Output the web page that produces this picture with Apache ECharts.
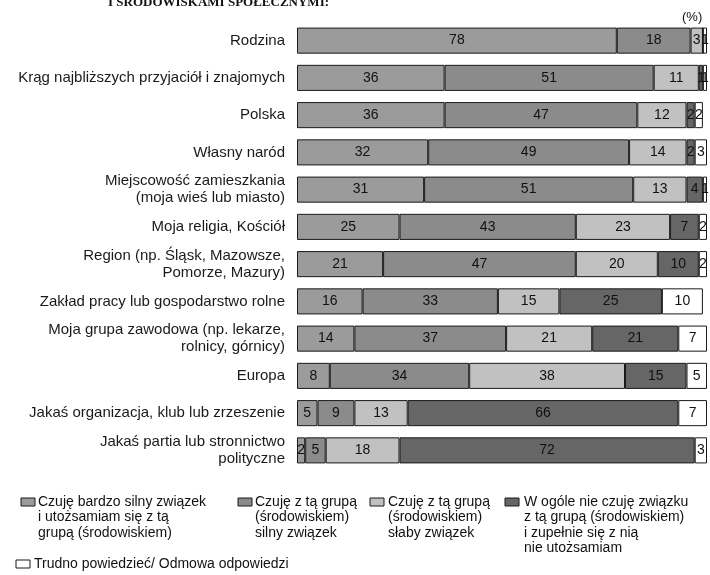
<!DOCTYPE html>
<html>
<head>
<meta charset="utf-8">
<style>
  html, body { margin: 0; padding: 0; background: #ffffff; }
  #chart { width: 710px; height: 575px; }
</style>
<script src="https://cdn.jsdelivr.net/npm/echarts/dist/echarts.min.js"></script>
</head>
<body>
<div id="chart"></div>
<script>
// Social groups (top to bottom)
const categories = [
  'Rodzina',
  'Krąg najbliższych przyjaciół i znajomych',
  'Polska',
  'Własny naród',
  'Miejscowość zamieszkania\n(moja wieś lub miasto)',
  'Moja religia, Kościół',
  'Region (np. Śląsk, Mazowsze,\nPomorze, Mazury)',
  'Zakład pracy lub gospodarstwo rolne',
  'Moja grupa zawodowa (np. lekarze,\nrolnicy, górnicy)',
  'Europa',
  'Jakaś organizacja, klub lub zrzeszenie',
  'Jakaś partia lub stronnictwo\npolityczne'
];

// Answer shares in percent, one array per answer
const veryStrong = [78, 36, 36, 32, 31, 25, 21, 16, 14, 8, 5, 2];
const strong     = [18, 51, 47, 49, 51, 43, 47, 33, 37, 34, 9, 5];
const weak       = [3, 11, 12, 14, 13, 23, 20, 15, 21, 38, 13, 18];
const none       = [0, 1, 2, 2, 4, 7, 10, 25, 21, 15, 66, 72];
const hardToSay  = [1, 1, 2, 3, 1, 2, 2, 10, 7, 5, 7, 3];

const seriesNames = [
  'Czuję bardzo silny związek\ni utożsamiam się z tą\ngrupą (środowiskiem)',
  'Czuję z tą grupą\n(środowiskiem)\nsilny związek',
  'Czuję z tą grupą\n(środowiskiem)\nsłaby związek',
  'W ogóle nie czuję związku\nz tą grupą (środowiskiem)\ni zupełnie się z nią\nnie utożsamiam',
  'Trudno powiedzieć/ Odmowa odpowiedzi'
];
const seriesData = [veryStrong, strong, weak, none, hardToSay];
const seriesColors = ['#9b9b9b', '#8b8b8b', '#c1c1c1', '#666666', '#ffffff'];

const FONT = '"Liberation Sans", Arial, sans-serif';

const series = seriesData.map((data, i) => ({
  name: seriesNames[i],
  type: 'bar',
  stack: 'total',
  barWidth: '70%',
  data: data,
  itemStyle: { color: seriesColors[i], borderColor: '#1a1a1a', borderWidth: 1 },
  label: {
    show: true,
    position: 'inside',
    color: '#111',
    fontFamily: FONT,
    fontSize: 14,
    formatter: p => (p.value > 0 ? String(p.value) : '')
  },
  emphasis: { disabled: true },
  animation: false
}));

// Legend blocks drawn as boxes with captions
const legendPos = [
  { x: 21, y: 498, tx: 38 },
  { x: 238, y: 498, tx: 255 },
  { x: 370, y: 498, tx: 388 },
  { x: 505, y: 498, tx: 524 },
  { x: 16, y: 560, tx: 34 }
];
const legendGraphics = [];
seriesNames.forEach((name, i) => {
  const p = legendPos[i];
  legendGraphics.push({
    type: 'rect',
    shape: { x: p.x, y: p.y, width: 14, height: 8 },
    style: { fill: seriesColors[i], stroke: '#1a1a1a', lineWidth: 1 }
  });
  legendGraphics.push({
    type: 'text',
    x: p.tx,
    y: p.y - 4,
    style: {
      text: name,
      fill: '#111',
      font: '14px ' + FONT,
      lineHeight: 15.5,
      textVerticalAlign: 'top'
    }
  });
});

const chart = echarts.init(document.getElementById('chart'), null, { renderer: 'canvas' });
chart.setOption({
  animation: false,
  backgroundColor: '#ffffff',
  grid: { left: 297, right: 3, top: 22, bottom: 106, containLabel: false },
  xAxis: {
    type: 'value',
    min: 0,
    max: 100,
    show: false
  },
  yAxis: {
    type: 'category',
    inverse: true,
    data: categories,
    axisLine: { show: false },
    axisTick: { show: false },
    axisLabel: {
      color: '#1a1a1a',
      fontFamily: FONT,
      fontSize: 15,
      lineHeight: 17,
      margin: 12,
      align: 'right'
    }
  },
  series: series,
  graphic: [
    {
      type: 'text',
      left: 108,
      top: -4,
      style: {
        text: 'I ŚRODOWISKAMI SPOŁECZNYMI:',
        fill: '#111',
        font: 'bold 13px "Liberation Serif", serif'
      }
    },
    {
      type: 'text',
      left: 682,
      top: 11,
      style: { text: '(%)', fill: '#111', font: '13px ' + FONT }
    }
  ].concat(legendGraphics)
});
</script>
</body>
</html>
